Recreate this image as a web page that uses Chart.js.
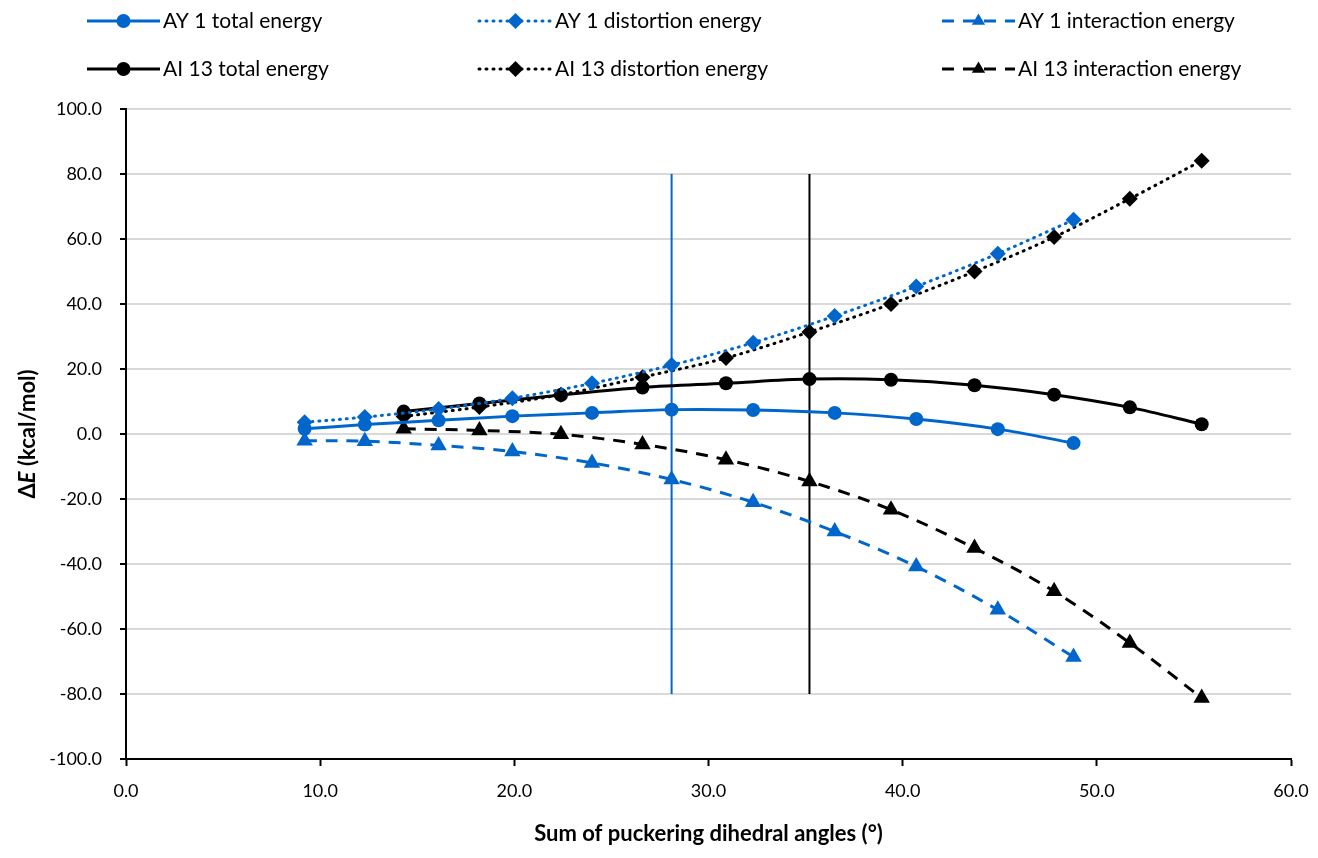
<!DOCTYPE html>
<html>
<head>
<meta charset="utf-8">
<title>Energy vs puckering</title>
<script src="https://cdn.jsdelivr.net/npm/chart.js@4.4.1/dist/chart.umd.min.js"></script>
<style>
  html, body { margin: 0; padding: 0; background: #fff; }
  #chart { display: block; }
</style>
</head>
<body>
<canvas id="chart" width="1318" height="858"></canvas>
<script>
// Data
const ay1X = [9.2, 12.3, 16.1, 19.9, 24.0, 28.1, 32.3, 36.5, 40.7, 44.9, 48.8];
const ay1Total = [1.6, 2.9, 4.2, 5.5, 6.5, 7.5, 7.4, 6.5, 4.6, 1.5, -2.8];
const ay1Distortion = [3.6, 5.2, 7.7, 11.0, 15.6, 21.2, 28.1, 36.3, 45.4, 55.5, 65.9];
const ay1Interaction = [-2.1, -2.2, -3.5, -5.4, -8.9, -14.0, -21.0, -30.0, -40.8, -54.1, -68.6];

const ai13X = [14.3, 18.2, 22.4, 26.6, 30.9, 35.2, 39.4, 43.7, 47.8, 51.7, 55.4];
const ai13Total = [6.9, 9.4, 12.0, 14.3, 15.6, 16.9, 16.7, 15.0, 12.1, 8.2, 3.0];
const ai13Distortion = [5.4, 8.3, 12.1, 17.5, 23.4, 31.4, 40.0, 50.0, 60.6, 72.4, 84.1];
const ai13Interaction = [1.6, 1.1, -0.1, -3.2, -7.9, -14.6, -23.3, -35.1, -48.4, -64.3, -81.2];

// vertical marker lines
const ay1Cut = 28.1;
const ai13Cut = 35.2;
const cutRange = [-80, 80];

const seriesNames = [
  "AY 1 total energy", "AY 1 distortion energy", "AY 1 interaction energy",
  "AI 13 total energy", "AI 13 distortion energy", "AI 13 interaction energy"
];

const xTicks = [0, 10, 20, 30, 40, 50, 60];
const yTicks = [-100, -80, -60, -40, -20, 0, 20, 40, 60, 80, 100];

const BLUE = "#0066cc";
const BLACK = "#000000";
const FONT = "Lato, 'Open Sans', sans-serif";

function toPoints(xs, ys) {
  return xs.map((x, i) => ({ x: x, y: ys[i] }));
}

const markerSize = { circle: 7, rectRot: 8, triangle: 9.5 };

function series(label, xs, ys, color, style, dash) {
  return {
    label: label,
    data: toPoints(xs, ys),
    showLine: true,
    borderColor: color,
    backgroundColor: color,
    borderWidth: 3,
    borderDash: dash,
    borderCapStyle: dash.length && dash[0] < 4 ? "round" : "butt",
    pointStyle: style,
    pointRadius: markerSize[style],
    pointBorderWidth: 0,
    pointBackgroundColor: color,
    tension: 0.35,
    fill: false,
    inLegend: true
  };
}

function cutLine(x, color) {
  return {
    label: "",
    data: [{ x: x, y: cutRange[0] }, { x: x, y: cutRange[1] }],
    showLine: true,
    borderColor: color,
    borderWidth: 2,
    pointRadius: 0,
    tension: 0,
    inLegend: false
  };
}

const datasets = [
  series(seriesNames[0], ay1X, ay1Total, BLUE, "circle", []),
  series(seriesNames[1], ay1X, ay1Distortion, BLUE, "rectRot", [1, 6]),
  series(seriesNames[2], ay1X, ay1Interaction, BLUE, "triangle", [12, 9]),
  series(seriesNames[3], ai13X, ai13Total, BLACK, "circle", []),
  series(seriesNames[4], ai13X, ai13Distortion, BLACK, "rectRot", [1, 6]),
  series(seriesNames[5], ai13X, ai13Interaction, BLACK, "triangle", [12, 9]),
  cutLine(ay1Cut, BLUE),
  cutLine(ai13Cut, BLACK)
];

// marker drawing used by the legend
function drawMarker(ctx, style, x, y, r, color) {
  ctx.save();
  ctx.fillStyle = color;
  ctx.beginPath();
  if (style === "circle") {
    ctx.arc(x, y, r, 0, Math.PI * 2);
  } else if (style === "rectRot") {
    ctx.moveTo(x, y - r);
    ctx.lineTo(x + r, y);
    ctx.lineTo(x, y + r);
    ctx.lineTo(x - r, y);
  } else {
    r = r * 0.8;
    ctx.moveTo(x, y - r);
    ctx.lineTo(x + r * 0.87, y + r * 0.5);
    ctx.lineTo(x - r * 0.87, y + r * 0.5);
  }
  ctx.closePath();
  ctx.fill();
  ctx.restore();
}

// Excel-like legend: 3 columns x 2 rows above the plot
const legendPlugin = {
  id: "excelLegend",
  afterDraw(chart) {
    const ctx = chart.ctx;
    const colX = [87, 479, 942];
    const rowY = [21, 69];
    const sample = 73;
    chart.data.datasets.forEach((ds, i) => {
      if (!ds.inLegend) return;
      const col = i % 3;
      const row = Math.floor(i / 3);
      const x0 = colX[col];
      const y = rowY[row];
      ctx.save();
      ctx.strokeStyle = ds.borderColor;
      ctx.lineWidth = ds.borderWidth;
      ctx.lineCap = ds.borderCapStyle;
      ctx.setLineDash(ds.borderDash);
      ctx.beginPath();
      ctx.moveTo(x0, y);
      ctx.lineTo(x0 + sample, y);
      ctx.stroke();
      ctx.restore();
      drawMarker(ctx, ds.pointStyle, x0 + sample / 2, y, ds.pointRadius, ds.borderColor);
      ctx.save();
      ctx.fillStyle = "#000";
      ctx.font = "21px " + FONT;
      ctx.textBaseline = "middle";
      ctx.fillText(ds.label, x0 + sample + 3, y);
      ctx.restore();
    });

    // y axis title with italic E
    ctx.save();
    ctx.translate(28, 434);
    ctx.rotate(-Math.PI / 2);
    ctx.fillStyle = "#000";
    ctx.textBaseline = "middle";
    const parts = [["Δ", "bold 22px " + FONT], ["E", "italic bold 22px " + FONT], [" (kcal/mol)", "bold 22px " + FONT]];
    let total = 0;
    parts.forEach(p => { ctx.font = p[1]; total += ctx.measureText(p[0]).width; });
    let cx = -total / 2;
    parts.forEach(p => {
      ctx.font = p[1];
      ctx.fillText(p[0], cx, 0);
      cx += ctx.measureText(p[0]).width;
    });
    ctx.restore();
  }
};

const ctx = document.getElementById("chart").getContext("2d");
new Chart(ctx, {
  type: "scatter",
  data: { datasets: datasets },
  plugins: [legendPlugin],
  options: {
    responsive: false,
    animation: false,
    devicePixelRatio: 1,
    layout: { padding: { top: 109, right: 27, left: 0, bottom: 0 } },
    plugins: {
      legend: { display: false },
      tooltip: { enabled: false }
    },
    scales: {
      x: {
        type: "linear",
        min: xTicks[0],
        max: xTicks[xTicks.length - 1],
        afterBuildTicks(scale) { scale.ticks = xTicks.map(v => ({ value: v })); },
        afterFit(scale) {
          scale.height = 99;
          scale.paddingLeft = 0;
          scale.paddingRight = 0;
        },
        ticks: {
          callback: v => v.toFixed(1),
          color: "#000",
          font: { family: FONT, size: 18 },
          padding: 14,
          maxRotation: 0
        },
        grid: {
          drawOnChartArea: false,
          drawTicks: true,
          tickLength: 7,
          tickColor: "#000",
          tickWidth: 2
        },
        border: { display: true, color: "#000", width: 2 },
        title: {
          display: true,
          text: "Sum of puckering dihedral angles (°)",
          color: "#000",
          font: { family: FONT, size: 22, weight: "bold" },
          padding: { top: 0, bottom: 11 }
        }
      },
      y: {
        type: "linear",
        min: yTicks[0],
        max: yTicks[yTicks.length - 1],
        afterBuildTicks(scale) { scale.ticks = yTicks.map(v => ({ value: v })); },
        afterFit(scale) { scale.width = 126; },
        ticks: {
          callback: v => v.toFixed(1),
          color: "#000",
          font: { family: FONT, size: 18 },
          padding: 18
        },
        grid: {
          color: "#d9d9d9",
          lineWidth: 2,
          drawTicks: true,
          tickLength: 6,
          tickColor: "#000",
          tickWidth: 2
        },
        border: { display: true, color: "#000", width: 2 }
      }
    }
  }
});
</script>
</body>
</html>
